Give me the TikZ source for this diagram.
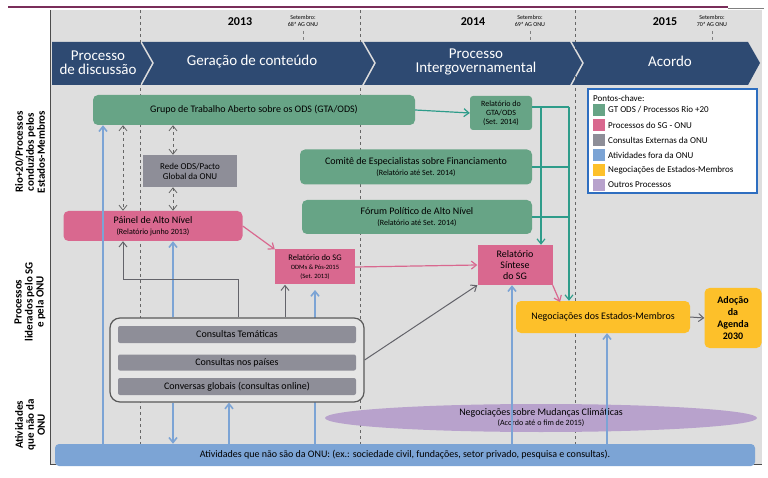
\documentclass[tikz,border=0pt]{standalone}
\usepackage{fontspec}
\setmainfont{Carlito}
\usetikzlibrary{arrows.meta,shapes.geometric}
\definecolor{bgc}{HTML}{DEDEDE}
\definecolor{navy}{HTML}{2E4A72}
\definecolor{grn}{HTML}{67A486}
\definecolor{pnk}{HTML}{D9688F}
\definecolor{gry}{HTML}{8E8E98}
\definecolor{blu}{HTML}{7CA4D5}
\definecolor{yel}{HTML}{FDC02A}
\definecolor{pur}{HTML}{B8A2CC}
\definecolor{teal}{HTML}{2E9C8A}
\definecolor{maroon}{HTML}{7A2E5A}
\definecolor{lblue}{HTML}{2E6EC0}
\begin{document}
\begin{tikzpicture}[x=1pt,y=-1pt,>={Straight Barb[length=5pt,width=8pt]},
 box/.style={draw=none,rounded corners=5pt,align=center,inner sep=1pt,font=\fontsize{10}{11}\selectfont},
 g/.style={box,fill=grn}, p/.style={box,fill=pnk}, gr/.style={box,fill=gry},
 chev/.style={fill=navy},
 chevt/.style={text=white,align=center,font=\fontsize{15}{16}\selectfont},
 side/.style={rotate=90,align=center,font=\bfseries\fontsize{11}{11}\selectfont},
 ba/.style={blu,line width=1.6pt,->},
 ga/.style={gry!70!black,line width=1pt,->},
 pa/.style={pnk,line width=1.2pt,->},
 ta/.style={teal,line width=1.2pt},
 lg/.style={anchor=west,font=\fontsize{9}{10}\selectfont,inner sep=1pt}]
\useasboundingbox (0,0) rectangle (768,478);
\fill[white] (0,0) rectangle (768,478);
\fill[bgc] (50,10) rectangle (762,464);
\draw[maroon,line width=1.5pt] (8,7) -- (728,7);
\draw[gray,line width=0.8pt] (728,8) -- (764,8);
\draw[black!70,line width=0.8pt] (50,10) -- (50,464) -- (762,464);
\foreach \x in {140,360,575} \draw[black!60,dashed,line width=0.7pt] (\x,10) -- (\x,464);
% years
\node[font=\bfseries\fontsize{12}{12}\selectfont] (y13) at (240,22) {2013};
\node[font=\bfseries\fontsize{12}{12}\selectfont] (y14) at (473,22) {2014};
\node[font=\bfseries\fontsize{12}{12}\selectfont] (y15) at (665,22) {2015};
\node[align=center,font=\fontsize{6}{7}\selectfont] (s13) at (303,21) {Setembro:\\68ª AG ONU};
\node[align=center,font=\fontsize{6}{7}\selectfont] (s14) at (530,21) {Setembro:\\69ª AG ONU};
\node[align=center,font=\fontsize{6}{7}\selectfont] (s15) at (712,21) {Setembro:\\70ª AG ONU};
\foreach \x in {303,530,712} \draw[gray,dashed] (\x,31) -- (\x,41);
% chevrons
\fill[chev] (52,42) -- (140,42) -- (152,63) -- (140,85) -- (52,85) -- cycle;
\fill[chev] (142,42) -- (362,42) -- (374,63) -- (362,85) -- (142,85) -- (154,63) -- cycle;
\fill[chev] (364,42) -- (570,42) -- (582,63) -- (570,85) -- (364,85) -- (376,63) -- cycle;
\fill[chev] (572,42) -- (748,42) -- (760,63) -- (748,85) -- (572,85) -- (584,63) -- cycle;
\node[chevt] (c1) at (98,63) {Processo\\[-2pt]de discussão};
\node[chevt] (c2) at (252,62) {Geração de conteúdo};
\node[chevt] (c3) at (476,62) {Processo\\[-2pt]Intergovernamental};
\node[chevt] (c4) at (670,61) {Acordo};
% side labels
\node[side] (l1) at (30,152) {Rio+20/Processos\\conduzidos pelos\\Estados-Membros};
\node[side] (l2) at (30,302) {Processos\\liderados pelo SG\\e pela ONU};
\node[side] (l3) at (30,425) {Atividades\\que não da\\ONU};
% coordinates
\foreach \n/\x in {a/103,b/123,c/173,d/229,e/238,f/285,h/315,i/512,j/541,k/569,m/607} \coordinate (\n) at (\x,0);
% blue lines behind
\draw[ba] (h |- 0,444) -- (h |- 0,290);
% nodes
\node[g,minimum width=322pt,minimum height=30pt] (gta) at (254,110) {Grupo de Trabalho Aberto sobre os ODS (GTA/ODS)};
\node[g,rounded corners=3pt,minimum width=62pt,minimum height=34pt,font=\fontsize{8}{9}\selectfont] (rgta) at (501,113) {Relatório do\\GTA/ODS\\(Set. 2014)};
\node[gr,rounded corners=0pt,minimum width=94pt,minimum height=32pt,font=\fontsize{9}{10}\selectfont] (rede) at (190,171) {Rede ODS/Pacto\\Global da ONU};
\node[g,minimum width=232pt,minimum height=35pt] (com) at (416,167) {Comitê de Especialistas sobre Financiamento\\{\fontsize{8}{9}\selectfont(Relatório até Set. 2014)}};
\node[g,minimum width=230pt,minimum height=34pt] (for) at (417,217) {Fórum Político de Alto Nível\\{\fontsize{8}{9}\selectfont(Relatório até Set. 2014)}};
\node[p,minimum width=179pt,minimum height=30pt] (pai) at (153,226) {Páinel de Alto Nível\\{\fontsize{8}{9}\selectfont(Relatório junho 2013)}};
\node[p,rounded corners=0pt,minimum width=80pt,minimum height=35pt,font=\fontsize{8.5}{9}\selectfont] (rsg) at (315,267) {Relatório do SG\\{\fontsize{6.5}{8}\selectfont ODMs \& Pós-2015}\\{\fontsize{6.5}{8}\selectfont(Set. 2013)}};
\node[p,rounded corners=0pt,minimum width=75pt,minimum height=40pt] (sin) at (515,265) {Relatório\\Síntese\\do SG};
\node[box,fill=yel,minimum width=174pt,minimum height=32pt] (neg) at (603,317) {Negociações dos Estados-Membros};
\node[box,fill=yel,minimum width=57pt,minimum height=60pt,font=\bfseries\fontsize{10}{12}\selectfont] (ado) at (733,318) {Adoção\\da\\Agenda\\2030};
\node[box,fill=bgc!80!white,draw=black!65,line width=1.2pt,rounded corners=10pt,minimum width=254pt,minimum height=84pt] (cons) at (237,360) {};
\node[gr,rounded corners=2pt,minimum width=238pt,minimum height=17pt] (ct) at (237,334.5) {Consultas Temáticas};
\node[gr,rounded corners=2pt,minimum width=238pt,minimum height=16pt] (cp) at (237,362.5) {Consultas nos países};
\node[gr,rounded corners=2pt,minimum width=238pt,minimum height=17pt] (cg) at (237,386.5) {Conversas globais (consultas online)};
\node[ellipse,fill=pur,minimum width=432pt,minimum height=28pt,inner sep=0pt,align=center,font=\fontsize{10}{10}\selectfont] (cli) at (541,418) {Negociações sobre Mudanças Climáticas\\{\fontsize{8}{9}\selectfont(Acordo até o fim de 2015)}};
\node[box,fill=blu,rounded corners=4pt,minimum width=700pt,minimum height=22pt] (ati) at (405,455) {Atividades que não são da ONU: (ex.: sociedade civil, fundações, setor privado, pesquisa e consultas).};
% legend
\node[draw=lblue,line width=1.5pt,fill=white,minimum width=169pt,minimum height=104pt] (leg) at (672.5,141) {};
\node[lg] (lt) at (592,98) {Pontos-chave:};
\foreach \c/\t/\yy [count=\i] in {grn/{GT ODS / Processos Rio +20}/110, pnk/{Processos do SG - ONU}/125, gry/{Consultas Externas da ONU}/140, blu/{Atividades fora da ONU}/155, yel/{Negociações de Estados-Membros}/170, pur/{Outros Processos}/185}{
  \fill[\c] (593,\yy-6) rectangle (605,\yy+6);
  \node[lg] (li\i) at (607,\yy) {\t};}
% blue arrows
\draw[ba] (a |- ati.north) -- (a |- gta.south);
\draw[ba] (c |- cons.north) -- (c |- pai.south);
\draw[ba] (c |- cons.south) -- (c |- ati.north);
\draw[ba] (d |- ati.north) -- (d |- cons.south);
\draw[ba] (i |- ati.north) -- (i |- sin.south);
\draw[ba] (m |- ati.north) -- (m |- neg.south);
% gray dashed double
\draw[gray!80!black,dashed,line width=0.8pt,<->] (b |- gta.south) -- (b |- pai.north);
\draw[gray!80!black,dashed,line width=0.8pt,<->] (c |- gta.south) -- (c |- rede.north);
\draw[gray!80!black,dashed,line width=0.8pt,<->] (c |- rede.south) -- (c |- pai.north);
% gray arrows
\draw[ga] (e |- cons.north) -- (238,280) -- (123,280) -- (b |- pai.south);
\draw[ga] (f |- cons.north) -- (f |- rsg.south);
\draw[ga] (cons.east) -- (sin.south west);
\draw[ga] (neg.east) -- (ado.west);
% pink arrows
\draw[pa] (pai.east) -- (rsg.north west);
\draw[pa] (rsg.east) -- (sin.west);
\draw[pa] (sin.south east) -- (560,302);
% teal
\draw[ta,->] (gta.east) -- (rgta.west);
\draw[ta] (rgta.east |- 0,107) -- (k |- 0,107);
\draw[ta,->] (k |- 0,107) -- (k |- neg.north);
\draw[ta,->] (j |- 0,107) -- (j |- sin.north);
\draw[ta] (com.east) -- (k |- com.east);
\draw[ta] (for.east) -- (k |- for.east);
\end{tikzpicture}
\end{document}
